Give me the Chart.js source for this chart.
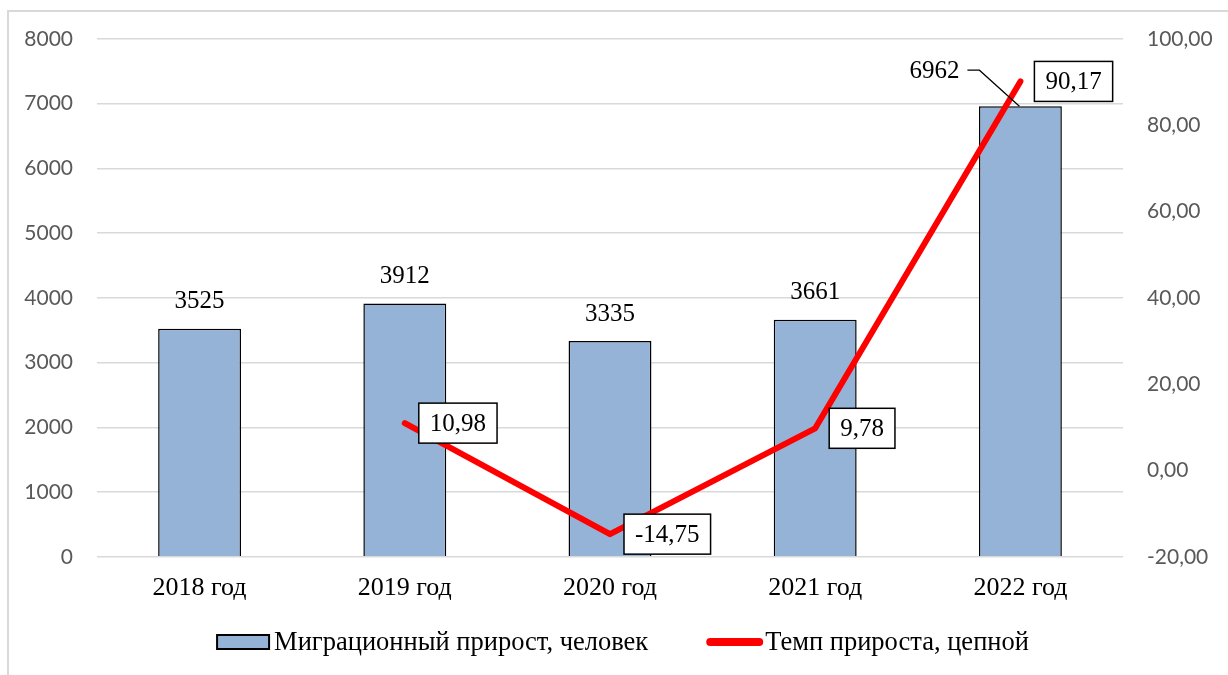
<!DOCTYPE html>
<html><head><meta charset="utf-8">
<script src="https://cdn.jsdelivr.net/npm/chart.js@4.4.1/dist/chart.umd.min.js"></script>
<style>
html,body{margin:0;padding:0;background:#fff;}
#frame{position:absolute;left:7px;top:10px;width:1400px;height:800px;border-left:2px solid #d9d9d9;border-top:2px solid #d9d9d9;box-sizing:border-box;}
#wrap{position:absolute;left:0;top:0;width:1228px;height:675px;}
</style></head>
<body>
<div id="frame"></div>
<div id="wrap"><canvas id="c" width="1228" height="675"></canvas></div>
<script>
const categories = ['2018 год', '2019 год', '2020 год', '2021 год', '2022 год'];
const migration = [3525, 3912, 3335, 3661, 6962];
const growthRate = [null, 10.98, -14.75, 9.78, 90.17];
const leftTicks = [0, 1000, 2000, 3000, 4000, 5000, 6000, 7000, 8000];
const rightTicks = [-20, 0, 20, 40, 60, 80, 100];
const seriesNames = ['Миграционный прирост, человек', 'Темп прироста, цепной'];

const fmtComma = v => v.toFixed(2).replace('.', ',');
const SERIF = '"Liberation Serif", "Times New Roman", serif';
const SANS = 'Lato, "Open Sans", sans-serif';

const labelPlugin = {
  id: 'labels',
  afterDatasetsDraw(chart) {
    const ctx = chart.ctx;
    ctx.save();
    ctx.font = '25px ' + SERIF;
    ctx.fillStyle = '#000';
    const barMeta = chart.getDatasetMeta(0);
    barMeta.data.forEach((bar, i) => {
      const txt = String(migration[i]);
      if (i === migration.length - 1) {
        const ty = bar.y - 35;
        const tr = bar.x - 61;
        ctx.textAlign = 'right'; ctx.textBaseline = 'middle';
        ctx.fillText(txt, tr, ty);
        ctx.beginPath();
        ctx.strokeStyle = '#000'; ctx.lineWidth = 1.2;
        ctx.moveTo(tr + 8, ty - 1);
        ctx.lineTo(tr + 20, ty - 1);
        ctx.lineTo(bar.x - 1, bar.y);
        ctx.stroke();
      } else {
        ctx.textAlign = 'center'; ctx.textBaseline = 'middle';
        ctx.fillText(txt, bar.x, bar.y - 27);
      }
    });
    const lineMeta = chart.getDatasetMeta(1);
    lineMeta.data.forEach((pt, i) => {
      if (growthRate[i] === null) return;
      const txt = fmtComma(growthRate[i]);
      const w = ctx.measureText(txt).width;
      const bx = pt.x + 14, bw = w + 22, bh = 40, by = pt.y - bh / 2;
      ctx.fillStyle = '#fff';
      ctx.fillRect(bx, by, bw, bh);
      ctx.strokeStyle = '#000'; ctx.lineWidth = 1.5;
      ctx.strokeRect(bx, by, bw, bh);
      ctx.fillStyle = '#000';
      ctx.textAlign = 'center'; ctx.textBaseline = 'middle';
      ctx.fillText(txt, bx + bw / 2, pt.y + 1);
    });
    ctx.restore();
  }
};

const legendPlugin = {
  id: 'customLegend',
  afterDraw(chart) {
    const ctx = chart.ctx;
    const ds = chart.data.datasets;
    ctx.save();
    ctx.font = '26.5px ' + SERIF;
    const markW = 52, gapText = 5, gapItem = 58;
    const w0 = ctx.measureText(ds[0].label).width;
    const w1 = ctx.measureText(ds[1].label).width;
    const total = markW + gapText + w0 + gapItem + 57 + 2 + w1;
    let x = chart.width / 2 + 9 - total / 2;
    const cy = chart.height - 33;
    ctx.fillStyle = ds[0].backgroundColor;
    ctx.fillRect(x, cy - 7, markW, 14);
    ctx.strokeStyle = '#000'; ctx.lineWidth = 2;
    ctx.strokeRect(x, cy - 7, markW, 14);
    x += markW + gapText;
    ctx.fillStyle = '#000'; ctx.textAlign = 'left'; ctx.textBaseline = 'middle';
    ctx.fillText(ds[0].label, x, cy + 1);
    x += w0 + gapItem;
    ctx.strokeStyle = ds[1].borderColor; ctx.lineWidth = 8; ctx.lineCap = 'round';
    ctx.beginPath(); ctx.moveTo(x + 4, cy); ctx.lineTo(x + 53, cy); ctx.stroke();
    x += 57 + 2;
    ctx.fillStyle = '#000';
    ctx.fillText(ds[1].label, x, cy + 1);
    ctx.restore();
  }
};

new Chart(document.getElementById('c'), {
  type: 'bar',
  data: {
    labels: categories,
    datasets: [
      {
        type: 'bar', label: seriesNames[0], data: migration, yAxisID: 'y',
        backgroundColor: '#95B3D7', borderColor: '#000', borderWidth: 1.5,
        categoryPercentage: 1, barPercentage: 0.404, order: 2
      },
      {
        type: 'line', label: seriesNames[1], data: growthRate, yAxisID: 'y1',
        borderColor: '#FF0000', backgroundColor: '#FF0000', borderWidth: 6,
        pointRadius: 0, borderCapStyle: 'round', borderJoinStyle: 'round',
        tension: 0, order: 1, spanGaps: false
      }
    ]
  },
  options: {
    responsive: false, animation: false,
    layout: { padding: { top: 39, bottom: 55, left: 0, right: 0 } },
    plugins: {
      tooltip: { enabled: false },
      legend: { display: false }
    },
    scales: {
      x: {
        grid: { display: false, drawTicks: false },
        border: { display: false },
        ticks: { font: { family: SERIF, size: 26 }, color: '#000', padding: 16 }
      },
      y: {
        position: 'left', min: 0, max: 8000,
        afterBuildTicks(s) { s.ticks = leftTicks.map(v => ({ value: v })); },
        afterFit(s) { s.width = 97; },
        grid: { color: '#d9d9d9', lineWidth: 1.5, drawTicks: false },
        border: { display: false },
        ticks: { font: { family: SANS, size: 21 }, color: '#595959', padding: 24, callback: v => String(v) }
      },
      y1: {
        position: 'right', min: -20, max: 100,
        afterBuildTicks(s) { s.ticks = rightTicks.map(v => ({ value: v })); },
        afterFit(s) { s.width = 105; },
        grid: { display: false, drawTicks: false },
        border: { display: false },
        ticks: { font: { family: SANS, size: 21 }, color: '#595959', padding: 24, callback: v => fmtComma(v) }
      }
    }
  },
  plugins: [labelPlugin, legendPlugin]
});
</script>
</body></html>
